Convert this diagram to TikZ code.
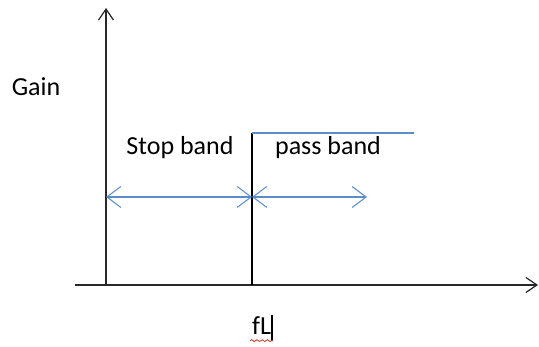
\documentclass[tikz,border=0pt]{standalone}
\usepackage{fontspec}
\setmainfont{Carlito}
\usepackage{xcolor}
\definecolor{band-blue}{RGB}{91,142,201}
\definecolor{axis-gray}{RGB}{40,40,40}
\definecolor{squiggle-red}{RGB}{200,60,40}
\usetikzlibrary{arrows.meta,decorations.pathmorphing}

\begin{document}
\begin{tikzpicture}[
    x=0.02cm, y=-0.02cm,
    axis line/.style={-{Straight Barb[length=0.22cm,width=0.3cm]}, axis-gray, line width=0.7pt},
    band arrow/.style={{Straight Barb[length=0.28cm,width=0.42cm]}-{Straight Barb[length=0.28cm,width=0.42cm]}, band-blue, line width=0.6pt},
    label text/.style={font=\fontsize{14.8}{17}\selectfont, text=black, inner sep=1pt}
]
\useasboundingbox (0,0) rectangle (539,347);

% axes
\coordinate (origin) at (106,285);
\coordinate (ytop) at (106,8);
\coordinate (xleft) at (75,285);
\coordinate (xright) at (538,285);
\draw[axis line] (origin) -- (ytop);
\draw[axis line] (xleft) -- (xright);
\node[label text] (gain) at (36,87) {Gain};

% cut-off edge and pass band level
\coordinate (cutbase) at (252,285);
\coordinate (cuttop) at (252,133);
\coordinate (passend) at (414,133);
\draw[black, line width=0.7pt] (cutbase) -- (cuttop);
\draw[band-blue, line width=0.6pt] (cuttop) -- (passend);

% band spans
\coordinate (stopleft) at (106,197);
\coordinate (stopright) at (252,197);
\coordinate (passright) at (367,197);
\draw[band arrow] (stopleft) -- (stopright);
\draw[band arrow] (stopright) -- (passright);
\node[label text] (stop) at (180,148) {Stop band};
\node[label text] (pass) at (328,148) {pass band};

% cut-off frequency label
\node[label text, anchor=base west] (fl) at (250,335) {fL};
\coordinate (cursorbot) at (272,341);
\coordinate (cursortop) at (272,315);
\draw[black, line width=0.9pt] (cursorbot) -- (cursortop);
\draw[squiggle-red, line width=0.5pt, decorate, decoration={snake, amplitude=0.5pt, segment length=3pt}]
    ([yshift=-2pt]fl.south west) -- ([yshift=-2pt]fl.south east);

\end{tikzpicture}
\end{document}
